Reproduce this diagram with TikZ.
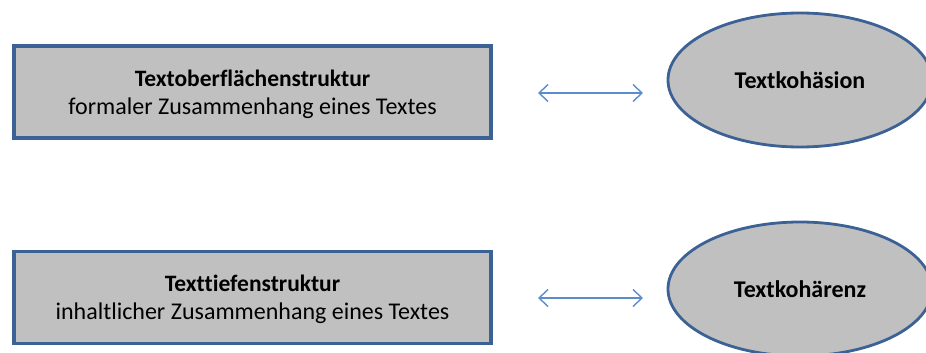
\documentclass[tikz,border=0pt]{standalone}
\usepackage{fontspec}
\setmainfont{Carlito}[Ligatures=NoCommon]
\usetikzlibrary{shapes.geometric,arrows.meta}
\definecolor{boxfill}{HTML}{C0C0C0}
\definecolor{boxline}{HTML}{3B6195}
\definecolor{arrowblue}{HTML}{5B8CCB}
\begin{document}
\begin{tikzpicture}[x=1pt,y=-1pt,
  textbox/.style={draw=boxline,line width=3.1pt,fill=boxfill,rectangle,
    minimum width=477pt,minimum height=92pt,inner sep=0pt},
  boxtext/.style={align=center,inner sep=0pt,font=\fontsize{24}{27.5}\selectfont},
  heading/.style={font=\bfseries\fontsize{23.5}{27.5}\selectfont},
  topic/.style={draw=boxline,line width=2.8pt,fill=boxfill,ellipse,
    minimum width=264pt,minimum height=134pt,inner sep=0pt,
    font=\bfseries\fontsize{24}{28}\selectfont},
  link/.style={draw=arrowblue,line width=1.4pt,
    {Straight Barb[length=9pt,width=17pt]}-{Straight Barb[length=9pt,width=17pt]}}]
\useasboundingbox (0,0) rectangle (926,353);
\clip (0,0) rectangle (926,353);
\fill[white] (0,0) rectangle (926,353);
% the two structure boxes
\node[textbox] (surface) at (252.5,92) {};
\node[boxtext] (surfacetext) at ([yshift=-2.5pt]surface.center)
  {{\bfseries\fontsize{23.5}{27.5}\selectfont Textoberflächenstruktur}\\formaler Zusammenhang eines Textes};
\node[textbox] (depth) at (252.5,297.5) {};
\node[boxtext] (depthtext) at ([yshift=-2pt]depth.center)
  {{\bfseries\fontsize{23.5}{27.5}\selectfont Texttiefenstruktur}\\inhaltlicher Zusammenhang eines Textes};
% the two ellipses
\node[topic] (cohesion) at (800,80) {Textkohäsion};
\node[topic] (coherence) at (800,289) {Textkohärenz};
% double-headed links between them
\coordinate (a1) at (538,93);
\coordinate (b1) at (643,93);
\coordinate (a2) at (538,298);
\coordinate (b2) at (643,298);
\draw[link] (a1) -- (b1);
\draw[link] (a2) -- (b2);
\end{tikzpicture}
\end{document}
